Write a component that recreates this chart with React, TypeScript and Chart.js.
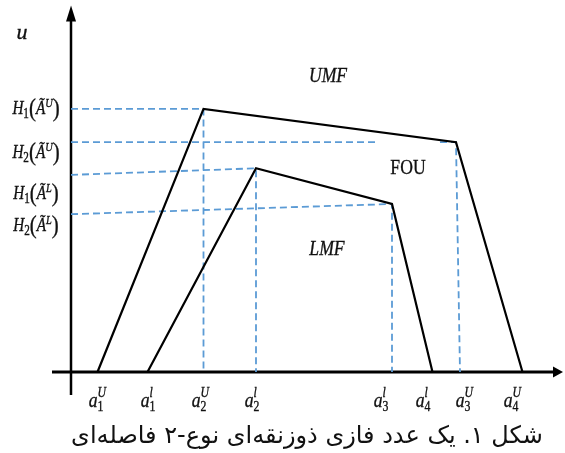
import React, { useEffect, useRef } from 'react';
import { Chart, registerables } from 'chart.js';

Chart.register(...registerables);

// Upper membership function (UMF) vertices: a1U, a2U, a3U, a4U
const upperX = [0.53, 2.65, 7.7, 9.03];
const upperY = [0, 0.877, 0.766, 0];
// Lower membership function (LMF) vertices: a1l, a2l, a3l, a4l
const lowerX = [1.53, 3.7, 6.42, 7.23];
const lowerY = [0, 0.679, 0.56, 0];

// Guide line start heights at the u-axis (as drawn)
const guideStartY = [0.877, 0.766, 0.657, 0.526];
const h2uGuideBreak = [6.12, 7.38];
const a3uFootX = 7.78;

// x tick labels a_sub^sup
const tickSubs = ['1', '1', '2', '2', '3', '4', '3', '4'];
const tickSups = ['U', 'l', 'U', 'l', 'l', 'l', 'U', 'U'];
const tickPos = [0.5, 1.54, 2.56, 3.62, 6.2, 7.04, 7.84, 8.8];

// u-axis labels H_sub(Ã^sup)
const hSubs = ['1', '2', '1', '2'];
const hSups = ['U', 'U', 'L', 'L'];
const hLabelPos = [0.88, 0.733, 0.597, 0.49];

const regionLabels = ['UMF', 'FOU', 'LMF'];
const regionX = [5.14, 6.74, 5.12];
const regionY = [0.99, 0.685, 0.413];

const caption = 'شکل ۱. یک عدد فازی ذوزنقه‌ای نوع-۲ فاصله‌ای';

const X_MIN = -1.42;
const X_MAX = 9.88;
const Y_MIN = -0.27;
const Y_MAX = 1.24;

const SERIF = "'Liberation Serif', 'DejaVu Serif', serif";
const BLUE = '#5B9BD5';
const INK = '#111';

type Piece = { t: string; size: number; it: boolean; dy: number };

function fontOf(p: { size: number; it: boolean }) {
  return `${p.it ? 'italic ' : ''}${p.size}px ${SERIF}`;
}

function drawPieces(ctx: CanvasRenderingContext2D, cx: number, cy: number, pieces: Piece[], sx: number) {
  ctx.save();
  let total = 0;
  const widths: number[] = [];
  for (const p of pieces) {
    ctx.font = fontOf(p);
    const w = ctx.measureText(p.t).width;
    widths.push(w);
    total += w;
  }
  ctx.translate(cx, cy);
  ctx.scale(sx, 1);
  let x = -total / 2;
  ctx.textAlign = 'left';
  ctx.textBaseline = 'alphabetic';
  ctx.fillStyle = INK;
  ctx.strokeStyle = INK;
  ctx.lineWidth = 0.35;
  pieces.forEach((p, i) => {
    ctx.font = fontOf(p);
    ctx.fillText(p.t, x, p.dy);
    ctx.strokeText(p.t, x, p.dy);
    x += widths[i];
  });
  ctx.restore();
}

const decorPlugin = {
  id: 'decor',
  beforeDatasetsDraw(chart: any) {
    const ctx: CanvasRenderingContext2D = chart.ctx;
    const xs = chart.scales.x;
    const ys = chart.scales.y;
    const x0 = xs.getPixelForValue(0);
    const y0 = ys.getPixelForValue(0);
    ctx.save();
    ctx.strokeStyle = '#000';
    ctx.fillStyle = '#000';
    // u axis
    const yTop = ys.getPixelForValue(1.222);
    const yBot = ys.getPixelForValue(-0.077);
    ctx.lineWidth = 2.5;
    ctx.beginPath();
    ctx.moveTo(x0, yBot);
    ctx.lineTo(x0, yTop + 14);
    ctx.stroke();
    ctx.beginPath();
    ctx.moveTo(x0, yTop);
    ctx.lineTo(x0 - 5, yTop + 16);
    ctx.lineTo(x0 + 5, yTop + 16);
    ctx.closePath();
    ctx.fill();
    // x axis
    const xLeft = xs.getPixelForValue(-0.38);
    const xRight = xs.getPixelForValue(9.84);
    ctx.lineWidth = 3;
    ctx.beginPath();
    ctx.moveTo(xLeft, y0);
    ctx.lineTo(xRight - 8, y0);
    ctx.stroke();
    ctx.beginPath();
    ctx.moveTo(xRight, y0);
    ctx.lineTo(xRight - 10, y0 - 5.5);
    ctx.lineTo(xRight - 10, y0 + 5.5);
    ctx.closePath();
    ctx.fill();
    ctx.restore();
  },
  afterDraw(chart: any) {
    const ctx: CanvasRenderingContext2D = chart.ctx;
    const xs = chart.scales.x;
    const ys = chart.scales.y;
    const sx = 0.84;
    // u label
    drawPieces(ctx, 22, 39, [{ t: 'u', size: 22, it: true, dy: 0 }], 1);
    // H labels
    hSubs.forEach((sub, i) => {
      const cy = ys.getPixelForValue(hLabelPos[i]);
      drawPieces(ctx, 36, cy + 6, [
        { t: 'H', size: 19, it: true, dy: 0 },
        { t: sub, size: 14, it: false, dy: 4 },
        { t: '(', size: 26, it: false, dy: 2 },
        { t: 'Ã', size: 19, it: true, dy: 0 },
        { t: hSups[i], size: 13, it: true, dy: -7 },
        { t: ')', size: 26, it: false, dy: 2 },
      ], 0.8);
    });
    // x tick labels
    tickSubs.forEach((sub, i) => {
      const cx = xs.getPixelForValue(tickPos[i]);
      drawPieces(ctx, cx, 407, [
        { t: 'a', size: 21, it: true, dy: 0 },
        { t: sub, size: 14, it: false, dy: 4 },
      ], sx);
      // superscript above subscript
      ctx.save();
      ctx.font = fontOf({ size: 21, it: true });
      const aw = ctx.measureText('a').width * sx;
      ctx.font = fontOf({ size: 14, it: false });
      const sw = ctx.measureText(sub).width * sx;
      const left = cx - (aw + sw) / 2 + aw;
      ctx.translate(left, 397);
      ctx.scale(sx, 1);
      ctx.font = fontOf({ size: 14, it: true });
      ctx.fillStyle = INK;
      ctx.strokeStyle = INK;
      ctx.lineWidth = 0.35;
      ctx.textAlign = 'left';
      ctx.fillText(tickSups[i], 0, 0);
      ctx.strokeText(tickSups[i], 0, 0);
      ctx.restore();
    });
    // region labels
    regionLabels.forEach((t, i) => {
      const cx = xs.getPixelForValue(regionX[i]);
      const cy = ys.getPixelForValue(regionY[i]);
      drawPieces(ctx, cx, cy + 7, [{ t, size: 21, it: t !== 'FOU', dy: 0 }], sx);
    });
    // caption
    ctx.save();
    ctx.font = `24px 'DejaVu Sans', sans-serif`;
    ctx.direction = 'rtl';
    ctx.textAlign = 'center';
    ctx.textBaseline = 'alphabetic';
    ctx.fillStyle = INK;
    ctx.fillText(caption, 307, 443);
    ctx.restore();
  },
};

export default function App() {
  const ref = useRef<HTMLCanvasElement | null>(null);
  useEffect(() => {
    if (!ref.current) return;
    const pts = (xs: number[], ys: number[]) => xs.map((x, i) => ({ x, y: ys[i] }));
    const guides = [
      { x: 0, y: guideStartY[0] },
      { x: upperX[1], y: upperY[1] },
      { x: upperX[1], y: 0 },
      { x: NaN, y: NaN },
      { x: 0, y: guideStartY[1] },
      { x: h2uGuideBreak[0], y: upperY[2] },
      { x: NaN, y: NaN },
      { x: h2uGuideBreak[1], y: upperY[2] },
      { x: upperX[2], y: upperY[2] },
      { x: a3uFootX, y: 0 },
      { x: NaN, y: NaN },
      { x: 0, y: guideStartY[2] },
      { x: lowerX[1], y: lowerY[1] },
      { x: lowerX[1], y: 0 },
      { x: NaN, y: NaN },
      { x: 0, y: guideStartY[3] },
      { x: lowerX[2], y: lowerY[2] },
      { x: lowerX[2], y: 0 },
    ];
    const chart = new Chart(ref.current, {
      type: 'scatter',
      data: {
        datasets: [
          {
            label: 'UMF',
            data: pts(upperX, upperY),
            showLine: true,
            borderColor: '#000',
            borderWidth: 2.2,
            pointRadius: 0,
            tension: 0,
          },
          {
            label: 'LMF',
            data: pts(lowerX, lowerY),
            showLine: true,
            borderColor: '#000',
            borderWidth: 2.2,
            pointRadius: 0,
            tension: 0,
          },
          {
            label: 'guides',
            data: guides,
            showLine: true,
            spanGaps: false,
            borderColor: BLUE,
            borderWidth: 1.8,
            borderDash: [7, 4],
            pointRadius: 0,
            tension: 0,
          },
        ],
      },
      options: {
        responsive: false,
        maintainAspectRatio: false,
        animation: false,
        layout: { padding: 0 },
        plugins: { legend: { display: false }, tooltip: { enabled: false }, title: { display: false } },
        scales: {
          x: { type: 'linear', min: X_MIN, max: X_MAX, display: false },
          y: { type: 'linear', min: Y_MIN, max: Y_MAX, display: false },
        },
      },
      plugins: [decorPlugin],
    });
    return () => chart.destroy();
  }, []);
  return (
    <div style={{ position: 'fixed', left: 0, top: 0, width: 565, height: 453, background: '#fff' }}>
      <canvas ref={ref} width={565} height={453} />
    </div>
  );
}
